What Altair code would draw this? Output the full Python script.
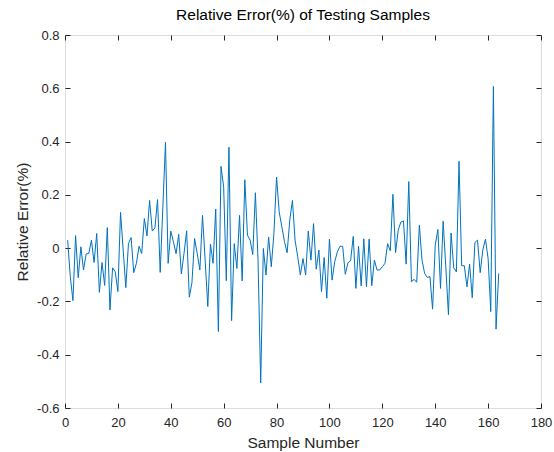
import altair as alt
import pandas as pd

samples = list(range(1, 165))
rel_err = [
    0.030, -0.107, -0.197, 0.047, -0.111, 0.005, -0.082, -0.022, -0.020, 0.030,
    -0.054, 0.055, -0.166, -0.054, -0.140, 0.077, -0.232, -0.074, -0.089, -0.163,
    0.134, -0.007, -0.148, 0.017, 0.040, -0.092, -0.057, 0.007, -0.020, 0.111,
    0.046, 0.179, 0.064, 0.076, 0.182, -0.091, 0.154, 0.397, -0.057, 0.064,
    0.024, -0.021, 0.052, -0.097, -0.020, 0.065, -0.184, -0.130, 0.036, -0.020,
    -0.082, 0.123, -0.045, -0.219, 0.015, -0.057, 0.147, -0.313, 0.307, 0.229,
    -0.122, 0.379, -0.272, 0.017, -0.076, 0.123, -0.123, 0.257, 0.049, 0.030,
    -0.024, 0.208, -0.045, -0.506, -0.001, -0.101, 0.042, -0.070, 0.055, 0.267,
    0.136, 0.080, 0.024, -0.017, 0.105, 0.179, 0.030, -0.032, -0.101, -0.039,
    -0.101, 0.064, -0.045, 0.092, -0.079, -0.007, -0.163, -0.035, -0.188, 0.034,
    -0.120, -0.051, -0.014, 0.007, 0.007, -0.098, -0.055, -0.047, 0.044, -0.151,
    0.007, -0.142, 0.035, -0.145, 0.034, -0.141, -0.045, -0.082, -0.082, -0.070,
    -0.057, 0.017, -0.010, 0.202, -0.017, 0.067, 0.098, 0.102, -0.060, 0.250,
    -0.126, -0.117, -0.128, 0.086, -0.045, -0.095, -0.110, -0.107, -0.229, 0.011,
    0.070, -0.151, 0.101, -0.070, -0.250, 0.057, -0.074, -0.089, 0.326, -0.066,
    -0.066, -0.145, -0.060, -0.186, 0.021, 0.030, -0.092, -0.007, 0.034, -0.039,
    -0.238, 0.607, -0.304, -0.095,
]
x_ticks = [0, 20, 40, 60, 80, 100, 120, 140, 160, 180]
y_ticks = [-0.6, -0.4, -0.2, 0, 0.2, 0.4, 0.6, 0.8]

df = pd.DataFrame({"Sample": samples, "Err": rel_err})

FONT = "Liberation Sans"
GREY = "#262626"

x_scale = alt.Scale(domain=[0, 180], nice=False, zero=False)
y_scale = alt.Scale(domain=[-0.6, 0.8], nice=False, zero=False)

y_label_expr = ("datum.value == 0 ? '0' : (datum.value < 0 ? '-' + format(-datum.value, '.1f')"
                " : format(datum.value, '.1f'))")

common = dict(offset=-5, tickSize=5, domain=False, grid=False, tickColor=GREY,
              tickWidth=1, labelFont=FONT, labelFontSize=13, labelColor=GREY,
              labelFlush=False, labelOverlap=False,
              titleFont=FONT, titleFontSize=15.5, titleColor=GREY, titleFontWeight="normal")

line = alt.Chart(df).mark_line(color="#0072BD", strokeWidth=1).encode(
    x=alt.X("Sample:Q", scale=x_scale,
            axis=alt.Axis(values=x_ticks, orient="bottom", title="Sample Number",
                          labelPadding=8, titlePadding=6, **common)),
    y=alt.Y("Err:Q", scale=y_scale,
            axis=alt.Axis(values=y_ticks, orient="left", title="Relative Error(%)",
                          labelExpr=y_label_expr, labelPadding=6, titlePadding=6, **common)),
)

frame = alt.Chart(df).mark_point(opacity=0).encode(
    x=alt.X("Sample:Q", scale=x_scale,
            axis=alt.Axis(values=x_ticks, orient="top", title=None, labels=False, **common)),
    y=alt.Y("Err:Q", scale=y_scale,
            axis=alt.Axis(values=y_ticks, orient="right", title=None, labels=False, **common)),
)

chart = alt.layer(line, frame).resolve_scale(
    x="independent", y="independent"
).properties(
    width=476,
    height=373,
    title=alt.TitleParams("Relative Error(%) of Testing Samples", font=FONT, fontSize=15.5,
                          fontWeight="normal", color="#000000", offset=6, anchor="middle"),
    autosize=alt.AutoSizeParams(type="none"),
    padding={"left": 65, "top": 35, "right": 13, "bottom": 44},
).configure_view(stroke=GREY, strokeWidth=1).configure(background="white")

chart.save("out.html", embed_options={"renderer": "svg", "actions": False})
